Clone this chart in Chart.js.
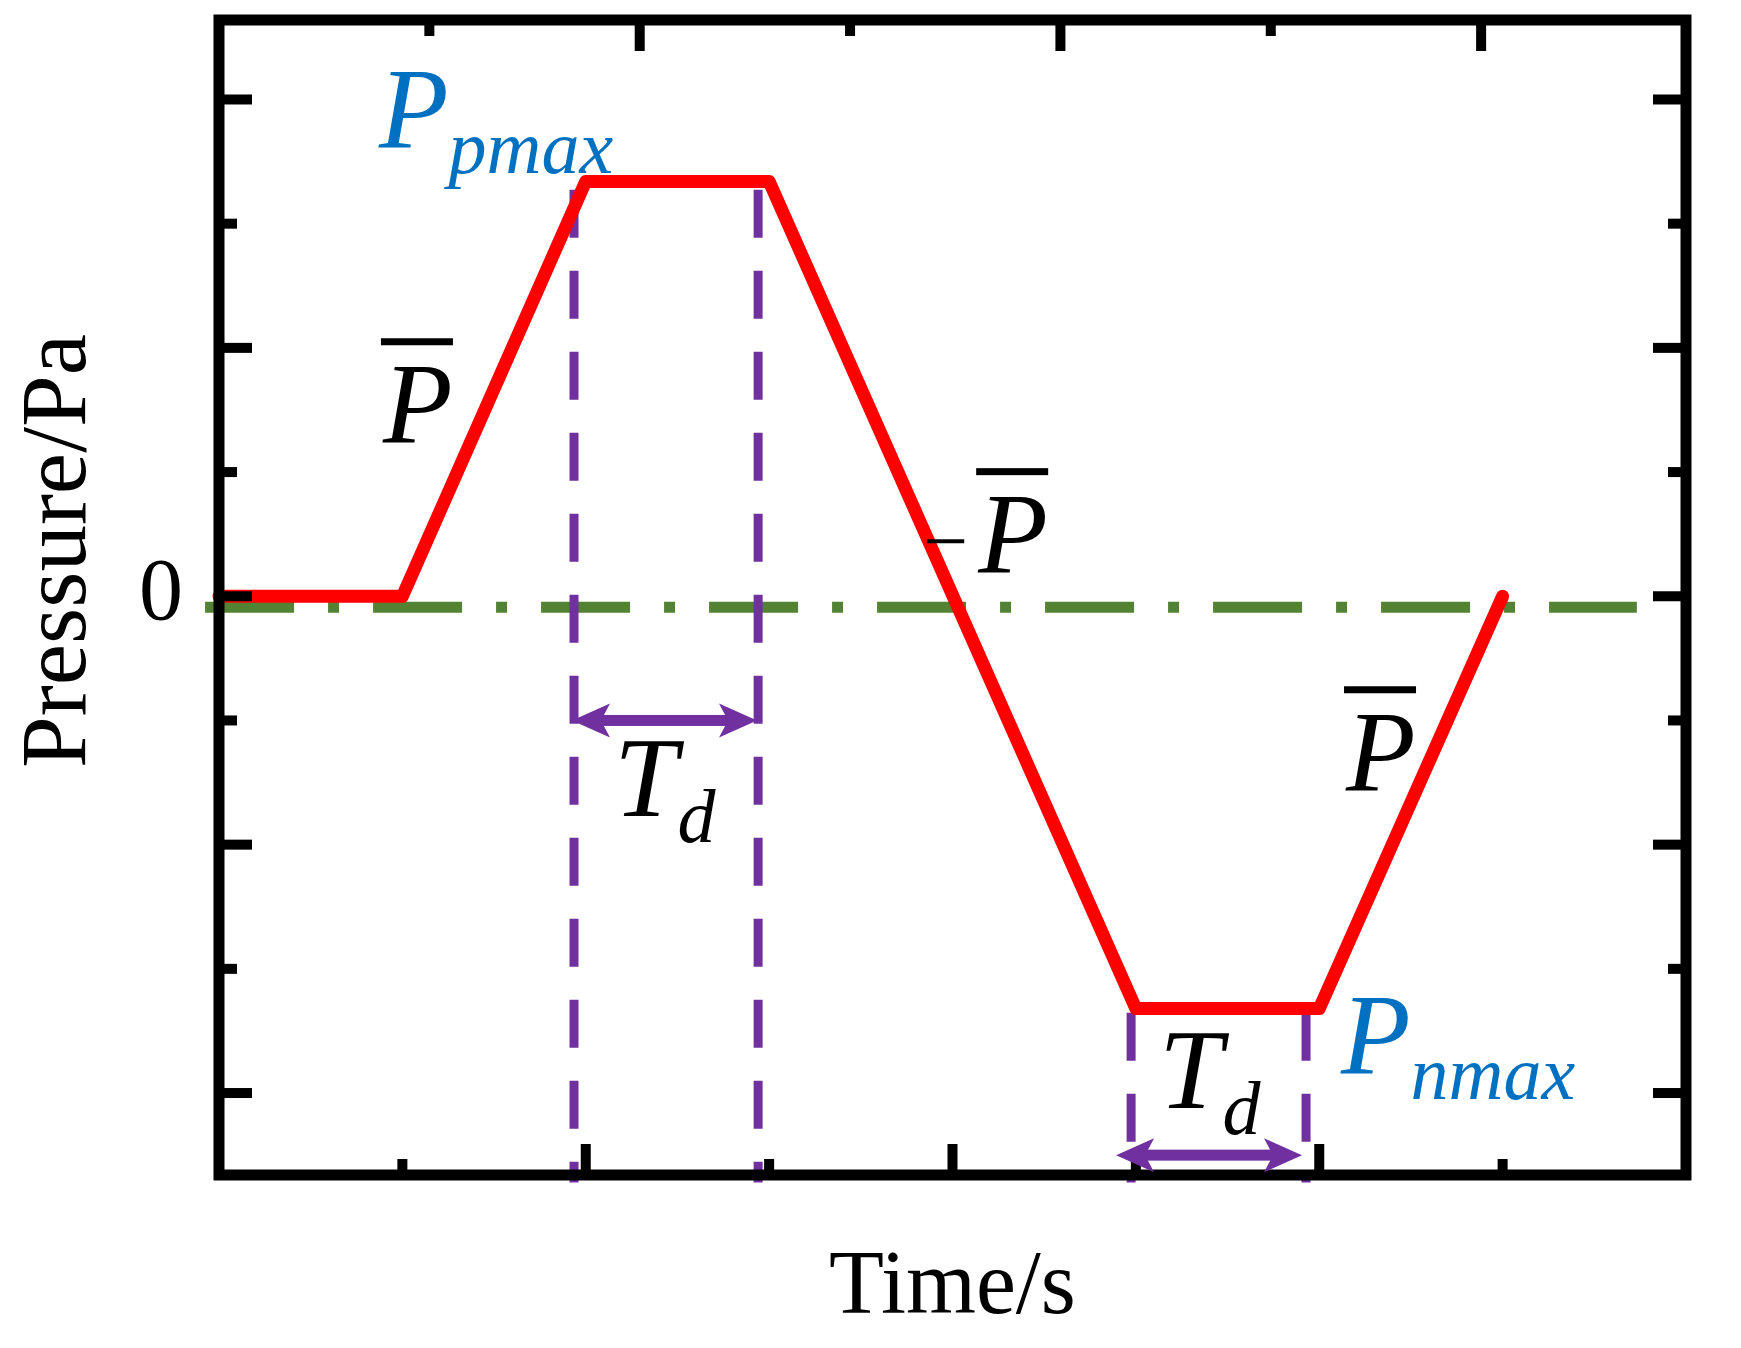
<!DOCTYPE html>
<html>
<head>
<meta charset="utf-8">
<script src="https://cdn.jsdelivr.net/npm/chart.js@4.4.1/dist/chart.umd.min.js"></script>
<style>
  html, body { margin: 0; padding: 0; background: #fff; }
  #wrap { width: 1741px; height: 1348px; }
</style>
</head>
<body>
<div id="wrap"><canvas id="chart"></canvas></div>
<script>
// pressure pulse (x and y in tick units, the plot has no numbers but 0)
const timeS = [0, 0.5, 1.0, 1.5, 2.5, 3.0, 3.5];
const pressurePa = [0, 0, 1.67, 1.67, -1.66, -1.66, 0];

// green dash-dot zero reference
const zeroLineX = [-0.038, 3.866];
const zeroLineY = [-0.044, -0.044];

// purple dashed Td markers
const markerX = [0.968, 1.47, 2.487, 2.964];
const markerTop = [1.637, 1.637, -1.677, -1.677];
const markerBottom = [-2.36, -2.36, -2.36, -2.36];

// Td double arrows
const tdFrom = [0.9625, 2.446];
const tdTo = [1.467, 2.953];
const tdLevel = [-0.5, -2.25];

// ticks
const xMajor = [1, 2, 3];
const xMinor = [0.5, 1.5, 2.5, 3.5];
const topMajor = [1, 2, 3];
const topMinor = [0.5, 1.5, 2.5];
const yMajor = [-2, -1, 0, 1, 2];
const yMinor = [-1.5, -0.5, 0.5, 1.5];
const yTickValues = [0];
const yTickLabels = ['0'];

const PURPLE = '#7030a0';
const BLUE = '#0070c0';
const SERIF = '"Liberation Serif", "Times New Roman", serif';

const datasets = [{
  label: 'Pressure',
  data: timeS.map((t, i) => ({x: t, y: pressurePa[i]})),
  borderColor: '#ff0000',
  borderWidth: 13,
  pointRadius: 0,
  tension: 0,
  borderJoinStyle: 'round',
  borderCapStyle: 'round',
  order: 0,
  clip: false
}, {
  label: 'zero',
  data: zeroLineX.map((x, i) => ({x: x, y: zeroLineY[i]})),
  borderColor: '#548235',
  borderWidth: 11,
  borderDash: [89, 34, 11, 34],
  pointRadius: 0,
  order: 2,
  clip: false
}];
markerX.forEach((x, i) => {
  datasets.push({
    label: 'Td' + i,
    data: [{x: x, y: markerTop[i]}, {x: x, y: markerBottom[i]}],
    borderColor: PURPLE,
    borderWidth: 9,
    borderDash: [48, 33],
    pointRadius: 0,
    order: 1,
    clip: false
  });
});

function arrow(ctx, x1, x2, y) {
  const head = 38, half = 17, shaft = 11, notch = 9;
  ctx.fillStyle = PURPLE;
  ctx.fillRect(x1 + head - notch - 2, y - shaft / 2, x2 - x1 - 2 * (head - notch - 2), shaft);
  ctx.beginPath();
  ctx.moveTo(x1, y);
  ctx.lineTo(x1 + head, y - half);
  ctx.lineTo(x1 + head - notch, y);
  ctx.lineTo(x1 + head, y + half);
  ctx.closePath();
  ctx.fill();
  ctx.beginPath();
  ctx.moveTo(x2, y);
  ctx.lineTo(x2 - head, y - half);
  ctx.lineTo(x2 - head + notch, y);
  ctx.lineTo(x2 - head, y + half);
  ctx.closePath();
  ctx.fill();
}

// annotation texts, anchored in data units
const notes = [
  {x: 0.436, y: 1.808, main: 'P', sub: 'pmax', color: BLUE},
  {x: 3.059, y: -1.92, main: 'P', sub: 'nmax', color: BLUE},
  {x: 1.077, y: -0.886, main: 'T', sub: 'd', color: '#000'},
  {x: 2.563, y: -2.061, main: 'T', sub: 'd', color: '#000'},
  {x: 0.447, y: 0.62, main: 'P', bar: true, color: '#000'},
  {x: 2.07, y: 0.097, main: 'P', bar: true, minus: true, color: '#000'},
  {x: 3.073, y: -0.781, main: 'P', bar: true, color: '#000'}
];

const framePlugin = {
  id: 'frame',
  afterDatasetsDraw(chart) {
    const {ctx, chartArea: a, scales} = chart;
    const xs = scales.x, x2 = scales.x2, ys = scales.y;
    ctx.save();

    // inward ticks on all four sides
    ctx.fillStyle = '#000';
    const tw = 10;
    xMajor.forEach(v => ctx.fillRect(xs.getPixelForValue(v) - tw / 2, a.bottom - 31, tw, 31));
    xMinor.forEach(v => ctx.fillRect(xs.getPixelForValue(v) - tw / 2, a.bottom - 16, tw, 16));
    topMajor.forEach(v => ctx.fillRect(x2.getPixelForValue(v) - tw / 2, a.top, tw, 31));
    topMinor.forEach(v => ctx.fillRect(x2.getPixelForValue(v) - tw / 2, a.top, tw, 16));
    yMajor.forEach(v => {
      const p = ys.getPixelForValue(v);
      ctx.fillRect(a.left, p - tw / 2, 33, tw);
      ctx.fillRect(a.right - 33, p - tw / 2, 33, tw);
    });
    yMinor.forEach(v => {
      const p = ys.getPixelForValue(v);
      ctx.fillRect(a.left, p - tw / 2, 18, tw);
      ctx.fillRect(a.right - 18, p - tw / 2, 18, tw);
    });

    // frame
    ctx.strokeStyle = '#000';
    ctx.lineWidth = 11;
    ctx.strokeRect(a.left, a.top, a.right - a.left, a.bottom - a.top);

    // Td arrows
    tdFrom.forEach((v, i) => {
      arrow(ctx, xs.getPixelForValue(v), xs.getPixelForValue(tdTo[i]), ys.getPixelForValue(tdLevel[i]));
    });

    // annotations
    ctx.textBaseline = 'alphabetic';
    ctx.textAlign = 'left';
    notes.forEach(n => {
      const px = xs.getPixelForValue(n.x);
      const py = ys.getPixelForValue(n.y);
      ctx.fillStyle = n.color;
      ctx.font = 'italic 114px ' + SERIF;
      ctx.fillText(n.main, px, py);
      const w = ctx.measureText(n.main).width;
      if (n.sub) {
        ctx.font = 'italic 76px ' + SERIF;
        ctx.fillText(n.sub, px + w, py + 26);
      }
      if (n.bar) {
        ctx.fillRect(px - 2, py - 104, 72, 7);
      }
      if (n.minus) {
        ctx.font = '80px ' + SERIF;
        ctx.textAlign = 'right';
        ctx.fillText('\u2212', px - 10, py - 4);
        ctx.textAlign = 'left';
      }
    });

    // axis titles
    ctx.fillStyle = '#000';
    ctx.font = '90px ' + SERIF;
    ctx.textAlign = 'center';
    ctx.fillText('Time/s', (a.left + a.right) / 2, 1313);
    ctx.translate(85, 551);
    ctx.rotate(-Math.PI / 2);
    ctx.font = '93px ' + SERIF;
    ctx.fillText('Pressure/Pa', 0, 0);
    ctx.restore();
  }
};

const ctx = document.getElementById('chart');
const myChart = new Chart(ctx, {
  type: 'line',
  data: { datasets: datasets },
  options: {
    responsive: true,
    maintainAspectRatio: false,
    devicePixelRatio: 1,
    animation: false,
    events: [],
    layout: { padding: { top: 20, right: 55, bottom: 173, left: 0 } },
    plugins: { legend: { display: false }, tooltip: { enabled: false } },
    scales: {
      x: { type: 'linear', min: 0, max: 4, display: false },
      x2: { type: 'linear', position: 'top', min: 0, max: 3.487, display: false },
      y: {
        type: 'linear',
        min: -2.33,
        max: 2.32,
        afterFit: s => {
          s.width = 219;
          s.paddingTop = 0;
          s.paddingBottom = 0;
        },
        afterBuildTicks: s => { s.ticks = yTickValues.map(v => ({value: v})); },
        ticks: {
          callback: (v, i) => yTickLabels[i],
          font: { family: SERIF, size: 88 },
          color: '#000',
          padding: 28
        },
        grid: { display: false },
        border: { display: false }
      }
    }
  },
  plugins: [framePlugin]
});
</script>
</body>
</html>
